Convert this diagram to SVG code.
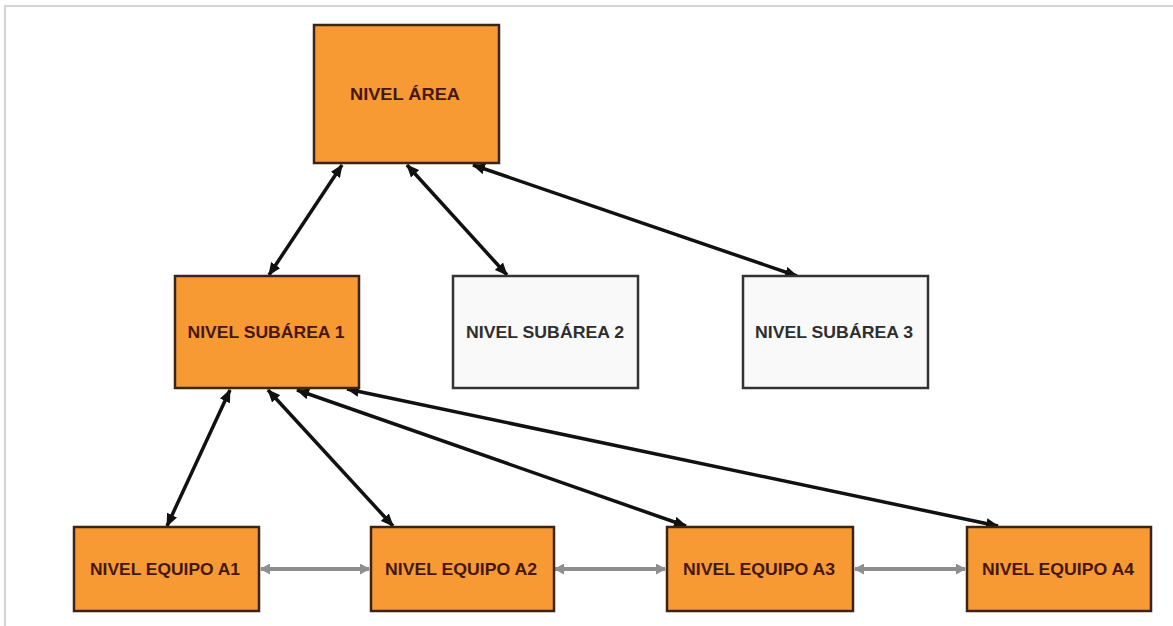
<svg xmlns="http://www.w3.org/2000/svg" width="1173" height="626" viewBox="0 0 1173 626">
  <style>
    .frame { stroke: #c8c8c8; stroke-width: 1.5; fill: none; }
    .orange rect { fill: #F89A33; stroke: #3a2418; stroke-width: 2.5; }
    .white rect { fill: #f9f9f9; stroke: #333333; stroke-width: 2.5; }
    text { font-family: "Liberation Sans", Arial, sans-serif; font-weight: bold; font-size: 16.5px; text-anchor: middle; }
    .orange text { fill: #45170c; }
    .white text { fill: #2e2e2e; }
    .link { stroke: #111111; stroke-width: 3.5; fill: none; marker-start: url(#ah); marker-end: url(#ah); }
    .peer { stroke: #8e8e8e; stroke-width: 4; fill: none; marker-start: url(#gh); marker-end: url(#gh); }
  </style>
  <defs>
    <marker id="ah" viewBox="0 0 13 11" refX="12" refY="5.5" markerWidth="13" markerHeight="11" markerUnits="userSpaceOnUse" orient="auto-start-reverse">
      <path d="M0,0 L13,5.5 L0,11 z" fill="#111111"/>
    </marker>
    <marker id="gh" viewBox="0 0 10 11" refX="9" refY="5.5" markerWidth="10" markerHeight="11" markerUnits="userSpaceOnUse" orient="auto-start-reverse">
      <path d="M0,0 L10,5.5 L0,11 z" fill="#8e8e8e"/>
    </marker>
  </defs>
  <rect width="1173" height="626" fill="#ffffff"/>
  <path class="frame" d="M5,626 L5,6 L1173,6"/>

  <g id="connectors">
    <line class="link" x1="342" y1="165" x2="269" y2="275"/>
    <line class="link" x1="407" y1="165" x2="507" y2="275"/>
    <line class="link" x1="473" y1="165" x2="797" y2="276"/>
    <line class="link" x1="230" y1="390" x2="167" y2="526"/>
    <line class="link" x1="268" y1="390" x2="393" y2="526"/>
    <line class="link" x1="297" y1="390" x2="686" y2="526"/>
    <line class="link" x1="347" y1="389" x2="998" y2="526"/>
    <line class="peer" x1="261" y1="569" x2="369" y2="569"/>
    <line class="peer" x1="555" y1="569" x2="665" y2="569"/>
    <line class="peer" x1="855" y1="569" x2="965" y2="569"/>
  </g>

  <g id="nivel-area" class="orange">
    <rect x="314" y="25" width="185" height="138"/>
    <text x="405" y="99.5" textLength="110" lengthAdjust="spacingAndGlyphs">NIVEL ÁREA</text>
  </g>
  <g id="subarea-1" class="orange">
    <rect x="175" y="276" width="184" height="112"/>
    <text x="266" y="338" textLength="157" lengthAdjust="spacingAndGlyphs">NIVEL SUBÁREA 1</text>
  </g>
  <g id="subarea-2" class="white">
    <rect x="453" y="276" width="185" height="112"/>
    <text x="545" y="338" textLength="158" lengthAdjust="spacingAndGlyphs">NIVEL SUBÁREA 2</text>
  </g>
  <g id="subarea-3" class="white">
    <rect x="743" y="276" width="185" height="112"/>
    <text x="834" y="338" textLength="158" lengthAdjust="spacingAndGlyphs">NIVEL SUBÁREA 3</text>
  </g>
  <g id="equipo-a1" class="orange">
    <rect x="74" y="527" width="185" height="84"/>
    <text x="165" y="574.5" textLength="150" lengthAdjust="spacingAndGlyphs">NIVEL EQUIPO A1</text>
  </g>
  <g id="equipo-a2" class="orange">
    <rect x="371" y="527" width="183" height="84"/>
    <text x="461" y="574.5" textLength="152" lengthAdjust="spacingAndGlyphs">NIVEL EQUIPO A2</text>
  </g>
  <g id="equipo-a3" class="orange">
    <rect x="667" y="527" width="186" height="84"/>
    <text x="759" y="574.5" textLength="152" lengthAdjust="spacingAndGlyphs">NIVEL EQUIPO A3</text>
  </g>
  <g id="equipo-a4" class="orange">
    <rect x="967" y="527" width="184" height="84"/>
    <text x="1058" y="574.5" textLength="152" lengthAdjust="spacingAndGlyphs">NIVEL EQUIPO A4</text>
  </g>
</svg>
